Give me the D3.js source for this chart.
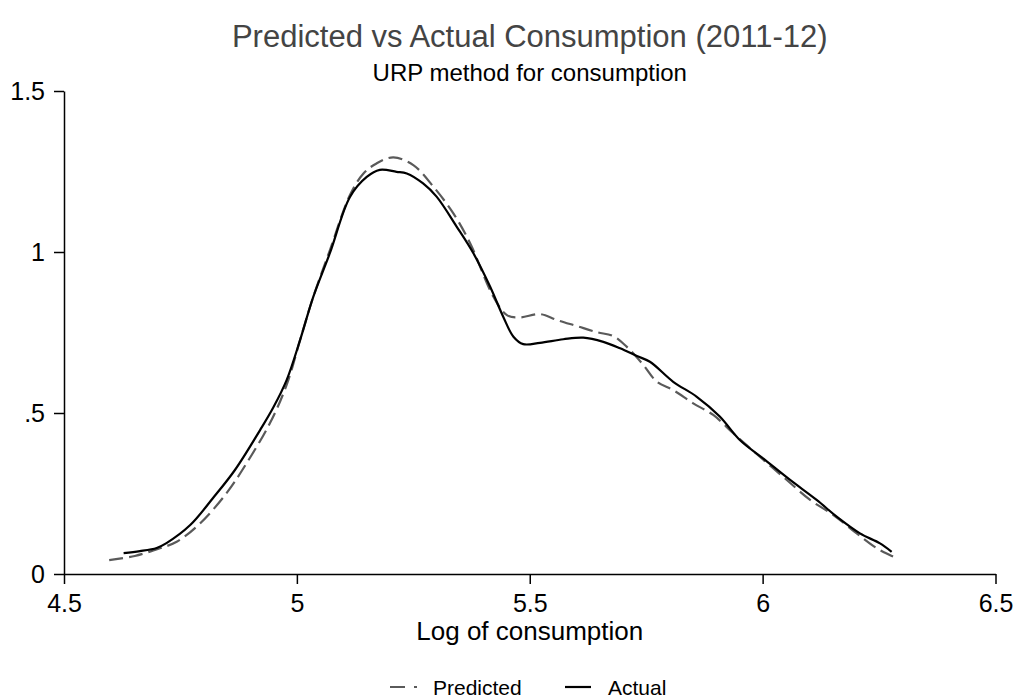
<!DOCTYPE html>
<html>
<head>
<meta charset="utf-8">
<script src="https://cdn.jsdelivr.net/npm/d3@7"></script>
<style>
  html, body { margin: 0; padding: 0; background: #fff; }
  svg { display: block; font-family: "Liberation Sans", Arial, Helvetica, sans-serif; }
</style>
</head>
<body>
<svg id="chart" width="1019" height="698"></svg>
<script>
// ---- Data ----
const titleText = "Predicted vs Actual Consumption (2011-12)";
const subtitleText = "URP method for consumption";
const xAxisTitle = "Log of consumption";
const seriesNames = ["Predicted", "Actual"];

const xTicks = [4.5, 5, 5.5, 6, 6.5];
const xTickLabels = ["4.5", "5", "5.5", "6", "6.5"];
const yTicks = [0, 0.5, 1, 1.5];
const yTickLabels = ["0", ".5", "1", "1.5"];

const predictedX = [4.597, 4.652, 4.706, 4.742, 4.792, 4.849, 4.892, 4.942, 4.978, 5.007, 5.035, 5.071, 5.114, 5.143, 5.171, 5.207, 5.250, 5.293, 5.336, 5.372, 5.422, 5.451, 5.479, 5.522, 5.558, 5.601, 5.644, 5.679, 5.708, 5.744, 5.773, 5.808, 5.851, 5.894, 5.937, 5.994, 6.044, 6.102, 6.152, 6.202, 6.245, 6.273, 6.291];
const predictedY = [0.043, 0.056, 0.080, 0.100, 0.157, 0.251, 0.344, 0.468, 0.587, 0.727, 0.860, 1.006, 1.177, 1.244, 1.275, 1.294, 1.270, 1.203, 1.120, 1.027, 0.861, 0.804, 0.797, 0.807, 0.789, 0.770, 0.751, 0.739, 0.706, 0.649, 0.597, 0.571, 0.530, 0.494, 0.437, 0.364, 0.302, 0.230, 0.183, 0.126, 0.080, 0.059, 0.047];

const actualX = [4.628, 4.663, 4.699, 4.720, 4.771, 4.820, 4.867, 4.921, 4.949, 4.978, 5.007, 5.035, 5.071, 5.114, 5.150, 5.178, 5.214, 5.236, 5.271, 5.300, 5.343, 5.379, 5.415, 5.443, 5.465, 5.486, 5.522, 5.572, 5.615, 5.658, 5.694, 5.730, 5.758, 5.808, 5.858, 5.908, 5.951, 6.001, 6.059, 6.116, 6.159, 6.209, 6.252, 6.277];
const actualY = [0.065, 0.071, 0.081, 0.096, 0.152, 0.236, 0.323, 0.447, 0.516, 0.602, 0.727, 0.860, 0.997, 1.171, 1.233, 1.255, 1.249, 1.244, 1.213, 1.172, 1.079, 0.996, 0.892, 0.799, 0.737, 0.714, 0.718, 0.729, 0.734, 0.721, 0.701, 0.677, 0.659, 0.597, 0.551, 0.489, 0.416, 0.359, 0.292, 0.230, 0.178, 0.126, 0.095, 0.069];

// ---- Layout ----
const svg = d3.select("#chart");
const plot = { left: 64, right: 995.5, top: 91, bottom: 574 };

const x = d3.scaleLinear().domain([4.5, 6.5]).range([plot.left, plot.right]);
const y = d3.scaleLinear().domain([0, 1.5]).range([plot.bottom, plot.top]);

const predColor = "#5a5a5a";
const actColor = "#000000";
const fontFam = '"Liberation Sans", Arial, Helvetica, sans-serif';

// Axes
const yAxis = d3.axisLeft(y).tickValues(yTicks)
  .tickFormat((d, i) => yTickLabels[i]).tickSize(10).tickSizeOuter(0).tickPadding(9);
const xAxis = d3.axisBottom(x).tickValues(xTicks)
  .tickFormat((d, i) => xTickLabels[i]).tickSize(10).tickSizeOuter(0).tickPadding(10);

const gy = svg.append("g").attr("transform", `translate(${plot.left},0)`).call(yAxis);
const gx = svg.append("g").attr("transform", `translate(0,${plot.bottom})`).call(xAxis);
[gx, gy].forEach(g => {
  g.attr("font-size", null).attr("font-family", null);
  g.select(".domain").attr("stroke", "#000").attr("stroke-width", 1.5);
  g.selectAll(".tick line").attr("stroke", "#000").attr("stroke-width", 1.5);
  g.selectAll(".tick text").attr("fill", "#000").style("font-size", "25px")
    .style("font-family", fontFam);
});

// Lines
const line = d3.line().x(d => x(d[0])).y(d => y(d[1])).curve(d3.curveCatmullRom.alpha(0.5));
const predData = predictedX.map((v, i) => [v, predictedY[i]]);
const actData = actualX.map((v, i) => [v, actualY[i]]);

svg.append("path").datum(predData).attr("d", line)
  .attr("fill", "none").attr("stroke", predColor).attr("stroke-width", 2.2)
  .attr("stroke-dasharray", "14,6");
svg.append("path").datum(actData).attr("d", line)
  .attr("fill", "none").attr("stroke", actColor).attr("stroke-width", 2.2);

// Titles
const cx = (plot.left + plot.right) / 2;
svg.append("text").attr("x", cx).attr("y", 47).attr("text-anchor", "middle")
  .style("font-size", "31px").attr("fill", "#444").text(titleText);
svg.append("text").attr("x", cx).attr("y", 81).attr("text-anchor", "middle")
  .style("font-size", "24px").attr("fill", "#000").text(subtitleText);
svg.append("text").attr("x", cx).attr("y", 640).attr("text-anchor", "middle")
  .style("font-size", "26px").attr("fill", "#000").text(xAxisTitle);

// Legend
const legend = svg.append("g");
const legY = 687;
legend.append("line").attr("x1", 390).attr("x2", 417).attr("y1", legY).attr("y2", legY)
  .attr("stroke", predColor).attr("stroke-width", 2.2).attr("stroke-dasharray", "15,9");
legend.append("text").attr("x", 433).attr("y", 695).style("font-size", "21px")
  .attr("fill", "#000").text(seriesNames[0]);
legend.append("line").attr("x1", 565).attr("x2", 591).attr("y1", legY).attr("y2", legY)
  .attr("stroke", actColor).attr("stroke-width", 2.2);
legend.append("text").attr("x", 608).attr("y", 695).style("font-size", "21px")
  .attr("fill", "#000").text(seriesNames[1]);
</script>
</body>
</html>
